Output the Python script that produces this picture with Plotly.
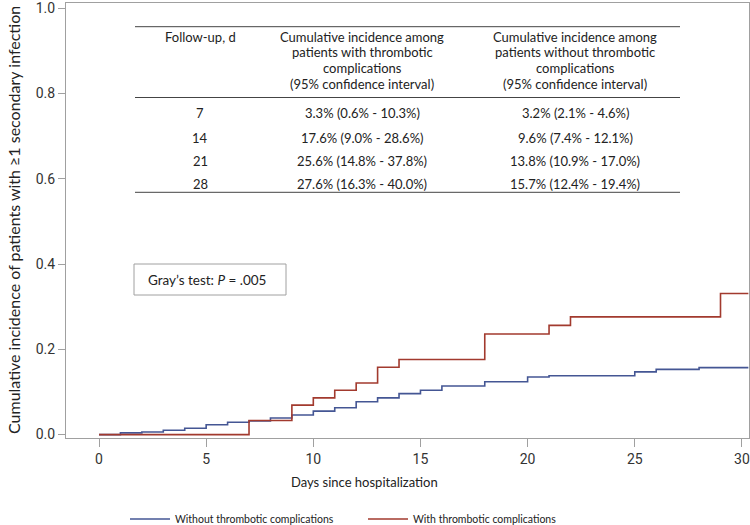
import plotly.graph_objects as go

# ---------------- data ----------------
days_without = [0, 1, 2, 3, 4, 5, 6, 7, 8, 9, 10, 11, 12, 13, 14, 15, 16, 18, 20, 21, 25, 26, 28, 30.3]
cif_without = [0, 0.004, 0.006, 0.010, 0.015, 0.023, 0.029, 0.032, 0.039, 0.046, 0.055, 0.063, 0.077,
               0.086, 0.096, 0.104, 0.114, 0.124, 0.135, 0.138, 0.147, 0.153, 0.157, 0.157]

days_with = [0, 7, 9, 10, 11, 12, 13, 14, 18, 21, 22, 29, 30.3]
cif_with = [0, 0.033, 0.069, 0.086, 0.104, 0.121, 0.158, 0.176, 0.236, 0.256, 0.276, 0.331, 0.331]

x_ticks = [0, 5, 10, 15, 20, 25, 30]
y_ticks = [0.0, 0.2, 0.4, 0.6, 0.8, 1.0]

header_col1 = ["Follow-up, d"]
header_col2 = ["Cumulative incidence among", "patients with thrombotic", "complications",
               "(95% confidence interval)"]
header_col3 = ["Cumulative incidence among", "patients without thrombotic", "complications",
               "(95% confidence interval)"]
table_days = ["7", "14", "21", "28"]
table_with = ["3.3% (0.6% - 10.3%)", "17.6% (9.0% - 28.6%)", "25.6% (14.8% - 37.8%)", "27.6% (16.3% - 40.0%)"]
table_without = ["3.2% (2.1% - 4.6%)", "9.6% (7.4% - 12.1%)", "13.8% (10.9% - 17.0%)", "15.7% (12.4% - 19.4%)"]

BLUE = "#445694"
RED = "#A23A2E"
FONT = "Lato, Open Sans, sans-serif"
TICKFONT = "Liberation Sans Narrow, Roboto, sans-serif"

# plot area in pixels
W, H = 750, 525
L, R, T, B = 66, 749, 3, 438


def xp(px):
    return (px - L) / (R - L)


def yp(py):
    return (B - py) / (B - T)


fig = go.Figure()
fig.add_trace(go.Scatter(x=days_without, y=cif_without, mode="lines", line_shape="hv",
                         line=dict(color=BLUE, width=1.6), name="Without thrombotic complications"))
fig.add_trace(go.Scatter(x=days_with, y=cif_with, mode="lines", line_shape="hv",
                         line=dict(color=RED, width=1.6), name="With thrombotic complications"))

annotations = []
shapes = []

# axis titles
annotations.append(dict(text="Days since hospitalization", x=xp(364), y=yp(482), xref="paper", yref="paper",
                        showarrow=False, font=dict(family=FONT, size=13, color="#222"),
                        xanchor="center", yanchor="middle"))
annotations.append(dict(text="Cumulative incidence of patients with ≥1 secondary infection", x=xp(13),
                        y=yp(220), xref="paper", yref="paper", textangle=-90, showarrow=False,
                        font=dict(family=FONT, size=16, color="#222"), xanchor="center", yanchor="middle"))

# table rules
for py in [26.7, 97.5, 192.3]:
    shapes.append(dict(type="line", xref="paper", yref="paper", x0=xp(135), x1=xp(680), y0=yp(py), y1=yp(py),
                       line=dict(color="#444", width=1)))

col_x = [200, 362, 575]
header_y = [36.7, 52.4, 68.1, 83.8]
# header
for i, col in enumerate([header_col1, header_col2, header_col3]):
    for k, line in enumerate(col):
        annotations.append(dict(text=line, x=xp(col_x[i]), y=yp(header_y[k]), xref="paper", yref="paper",
                                showarrow=False, xanchor="center", yanchor="middle",
                                font=dict(family=FONT, size=13, color="#222")))
row_y = [113.3, 137.7, 161, 184.3]
for j in range(len(table_days)):
    for i, col in enumerate([table_days, table_with, table_without]):
        annotations.append(dict(text=col[j], x=xp(col_x[i]), y=yp(row_y[j]), xref="paper", yref="paper",
                                showarrow=False, xanchor="center", yanchor="middle",
                                font=dict(family=FONT, size=13, color="#222")))

# Gray's test box
shapes.append(dict(type="rect", xref="paper", yref="paper", x0=xp(134), x1=xp(286), y0=yp(264), y1=yp(295),
                   line=dict(color="#a0a0a0", width=1), fillcolor="white"))
annotations.append(dict(text="Gray’s test: <i>P</i> = .005", x=xp(207), y=yp(280), xref="paper", yref="paper",
                        showarrow=False, xanchor="center", yanchor="middle",
                        font=dict(family=FONT, size=13.5, color="#222")))

fig.update_layout(
    width=W, height=H,
    margin=dict(l=L, r=W - R, t=T, b=H - B, autoexpand=False),
    plot_bgcolor="white", paper_bgcolor="white",
    showlegend=True,
    legend=dict(orientation="h", x=xp(125), y=yp(519), xanchor="left", yanchor="middle",
                font=dict(family=FONT, size=10.5, color="#222"), entrywidth=183, itemwidth=40),
    annotations=annotations, shapes=shapes,
    xaxis=dict(range=[-1.54, 30.33], tickvals=x_ticks, ticktext=[str(v) for v in x_ticks],
               showgrid=False, zeroline=False, showline=True, mirror=True, linecolor="#a0a0a0", linewidth=1,
               ticks="outside", ticklen=8, tickcolor="#a0a0a0", ticklabeloverflow="allow",
               tickfont=dict(family=TICKFONT, size=14, color="#333")),
    yaxis=dict(range=[-0.008, 1.012], tickvals=y_ticks, ticktext=[f"{v:.1f}" for v in y_ticks],
               showgrid=False, zeroline=False, showline=True, mirror=True, linecolor="#a0a0a0", linewidth=1,
               ticks="outside", ticklen=7, tickcolor="#a0a0a0", ticklabeloverflow="allow",
               tickfont=dict(family=TICKFONT, size=14, color="#333")),
)

fig.write_html("out.html", config={"displayModeBar": False},
               post_script="document.body.style.margin='0';document.body.style.padding='0';")
